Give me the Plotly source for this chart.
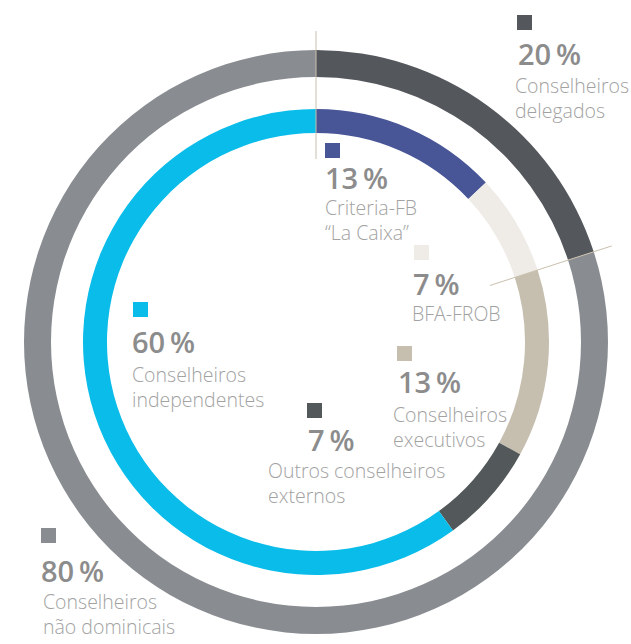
import math
import plotly.graph_objects as go

# ---------------- data ----------------
outer_labels = ["Conselheiros<br>delegados", "Conselheiros<br>não dominicais"]
outer_values = [20, 80]
outer_colors = ["#54575c", "#898d91"]

inner_labels = ["Criteria-FB<br>“La Caixa”", "BFA-FROB", "Conselheiros<br>executivos",
                "Outros conselheiros<br>externos", "Conselheiros<br>independentes"]
inner_values = [13, 7, 13, 7, 60]
inner_colors = ["#485596", "#efebe7", "#c6bfaf", "#53585a", "#0abce9"]

# ---------------- layout geometry (pixels) ----------------
W, H = 631, 644
CX, CY = 316, 342
R_OUT, R_OUT_IN = 292, 265
R_IN, R_IN_IN = 233, 209
LINE_GAP = 22


def px(x):
    return x / W


def py(y):
    return 1 - y / H


def dom(r):
    return dict(x=[px(CX - r), px(CX + r)], y=[py(CY + r), py(CY - r)])


fig = go.Figure()
fig.add_trace(go.Pie(values=outer_values, labels=outer_labels, sort=False,
                     direction="clockwise", rotation=0, hole=R_OUT_IN / R_OUT,
                     marker=dict(colors=outer_colors, line=dict(width=0)),
                     textinfo="none", domain=dom(R_OUT), hoverinfo="label+percent"))
fig.add_trace(go.Pie(values=inner_values, labels=inner_labels, sort=False,
                     direction="clockwise", rotation=0, hole=R_IN_IN / R_IN,
                     marker=dict(colors=inner_colors, line=dict(width=0)),
                     textinfo="none", domain=dom(R_IN), hoverinfo="label+percent"))

# divider lines at the start of the outer ring and at the outer-ring split
shapes = []
for frac in [0, outer_values[0] / sum(outer_values)]:
    ang = frac * 2 * math.pi
    r0, r1 = 183, 311
    x0, y0 = CX + r0 * math.sin(ang), CY - r0 * math.cos(ang)
    x1, y1 = CX + r1 * math.sin(ang), CY - r1 * math.cos(ang)
    shapes.append(dict(type="line", xref="paper", yref="paper",
                       x0=px(x0), y0=py(y0), x1=px(x1), y1=py(y1),
                       line=dict(color="#c9c0ad", width=1)))

# label placement: (square x, square y, percent y-center, first label line y-center)
place_outer = [(517, 15, 54, 87), (41, 528, 570, 603)]
place_inner = [(325, 143, 177, 209), (414, 245, 283, 313), (397, 346, 382, 416),
               (307, 403, 439, 472), (133, 302, 342, 376)]
text_x_outer = [514, 42]
text_x_inner = [324, 411, 392, 267, 131]
pct_x_outer = [517, 40]
pct_x_inner = [324, 412, 397, 307, 131]

annotations = []


def add_label(val, lab, color, sq, pctx, tx):
    sx, sy, pyc, lyc = sq
    shapes.append(dict(type="rect", xref="paper", yref="paper",
                       x0=px(sx), x1=px(sx + 15), y0=py(sy + 15), y1=py(sy),
                       fillcolor=color, line=dict(width=0)))
    annotations.append(dict(xref="paper", yref="paper", x=px(pctx), y=py(pyc),
                            xanchor="left", yanchor="middle", showarrow=False, borderpad=0,
                            text=f"{val}\u2009%",
                            font=dict(family="Open Sans", size=29, color="#8c8c8c", weight=600)))
    nlines = len(lab.split("<br>"))
    yc = lyc + (nlines - 1) * LINE_GAP / 2
    annotations.append(dict(xref="paper", yref="paper", x=px(tx), y=py(yc),
                            xanchor="left", yanchor="middle", align="left", showarrow=False,
                            borderpad=0, text=lab,
                            font=dict(family="Open Sans", size=19.5, color="#a2a2a2", weight=300)))


for v, l, c, p, pxx, tx in zip(outer_values, outer_labels, outer_colors, place_outer, pct_x_outer, text_x_outer):
    add_label(v, l, c, p, pxx, tx)
for v, l, c, p, pxx, tx in zip(inner_values, inner_labels, inner_colors, place_inner, pct_x_inner, text_x_inner):
    add_label(v, l, c, p, pxx, tx)

fig.update_layout(width=W, height=H, margin=dict(l=0, r=0, t=0, b=0),
                  paper_bgcolor="white", plot_bgcolor="white", showlegend=False,
                  shapes=shapes, annotations=annotations)
fig.write_html("out.html", config={"displayModeBar": False},
               post_script="document.body.style.margin='0';document.body.style.overflow='hidden';")
